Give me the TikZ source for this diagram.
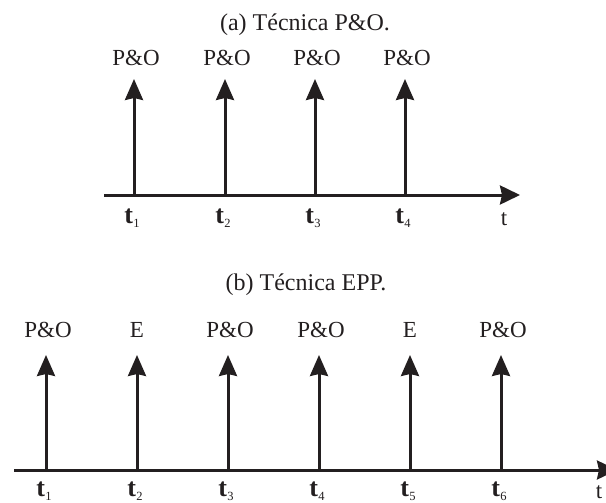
\documentclass[tikz,border=0pt]{standalone}
\usepackage{fontspec}
\setmainfont{Liberation Serif}
\usetikzlibrary{arrows.meta}
\definecolor{ink}{RGB}{35,31,32}
\newcommand{\tsub}[1]{\textbf{t}\kern0.3pt\raisebox{-4pt}{\fontsize{12.5}{12.5}\selectfont #1}}
\tikzset{
  lbl/.style={font=\fontsize{23}{23}\selectfont, anchor=base, inner sep=0pt, text=ink},
  ttl/.style={font=\fontsize{24}{24}\selectfont, anchor=base, inner sep=0pt, text=ink},
  tlbl/.style={font=\fontsize{26}{26}\selectfont, anchor=base, inner sep=0pt, text=ink},
  axisline/.style={draw=ink, line width=3pt, -{Stealth[length=20pt,width=19pt,inset=2pt]}},
  pulse/.style={draw=ink, line width=3pt, -{Stealth[length=21pt,width=18pt,inset=2pt]}},
}
\begin{document}
\begin{tikzpicture}[x=1pt,y=-1pt]
\path[use as bounding box, clip] (0,0) rectangle (606,503);

% (a) P&O: one perturb-and-observe step at every sampling instant
\node[ttl] (titleA) at (305,31) {(a) Técnica P\&O.};
\coordinate (axA0) at (104,195);
\coordinate (axA1) at (520,195);
\draw[axisline] (axA0) -- (axA1);
\node[lbl] (tA) at (504,225) {t};
\foreach \i/\x in {1/134,2/225,3/315,4/405}{
  \coordinate (pbA\i) at (\x,195);
  \coordinate (ptA\i) at (\x,79);
  \draw[pulse] (pbA\i) -- (ptA\i);
  \node[lbl] (plA\i) at (\x+2,66) {P\&O};
  \node[tlbl] (tsA\i) at (\x-2,223) {\tsub{\i}};
}

% (b) EPP: P&O steps interleaved with estimation steps
\node[ttl] (titleB) at (306,290) {(b) Técnica EPP.};
\coordinate (axB0) at (14,470);
\coordinate (axB1) at (617,470);
\draw[axisline] (axB0) -- (axB1);
\node[lbl] (tB) at (599,498) {t};
\foreach \i/\x/\lab/\dx in {1/46/P\&O/2,2/137/E/0,3/228/P\&O/2,4/319/P\&O/2,5/410/E/0,6/501/P\&O/2}{
  \coordinate (pbB\i) at (\x,470);
  \coordinate (ptB\i) at (\x,355);
  \draw[pulse] (pbB\i) -- (ptB\i);
  \node[lbl] (plB\i) at (\x+\dx,337) {\lab};
  \node[tlbl] (tsB\i) at (\x-2,496) {\tsub{\i}};
}
\end{tikzpicture}
\end{document}
